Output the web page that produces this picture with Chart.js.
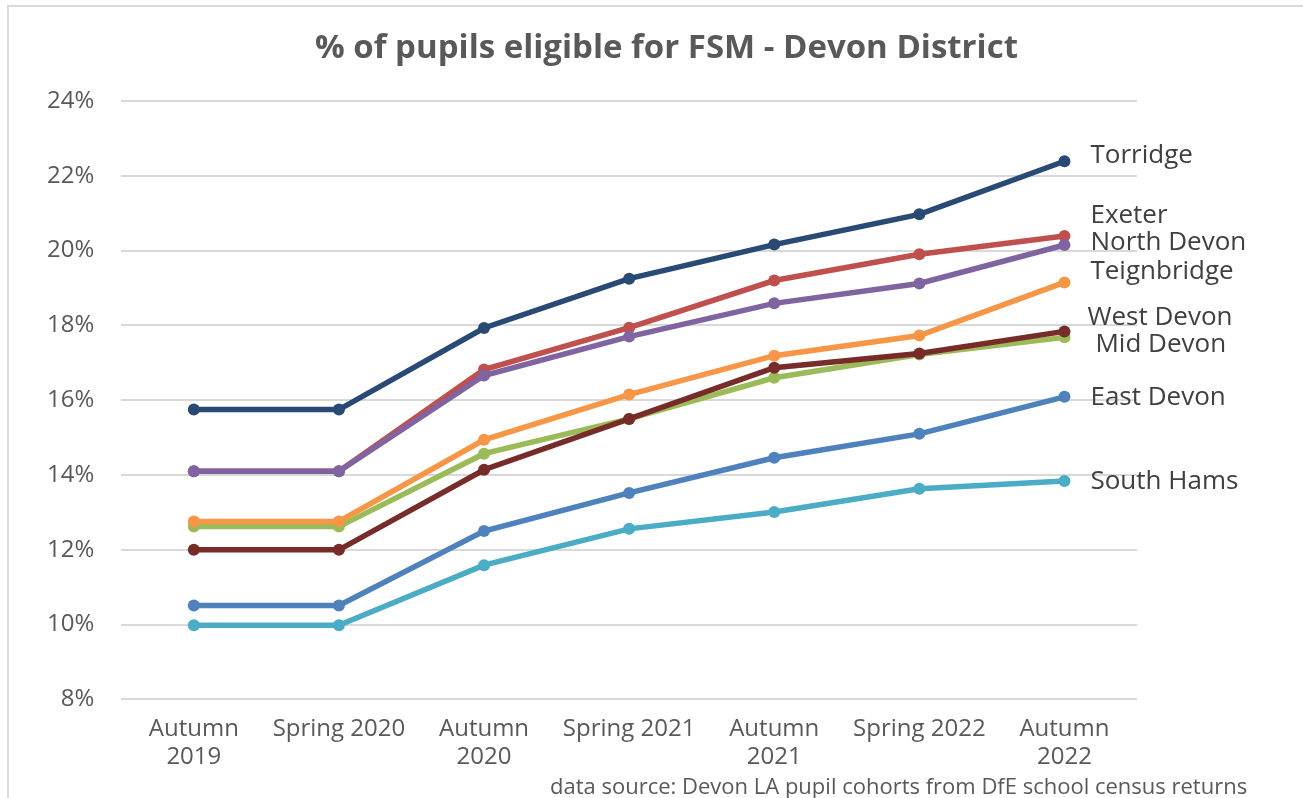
<!DOCTYPE html>
<html>
<head>
<meta charset="utf-8">
<script src="https://cdn.jsdelivr.net/npm/chart.js@4"></script>
<style>
  body { margin: 0; background: #fff; }
  #wrap { position: relative; width: 1303px; height: 798px; overflow: hidden; }
  #frame { position: absolute; left: 7px; top: 5px; right: -5px; bottom: -5px; border: 2px solid #d9d9d9; }
  #title { position: absolute; left: 0; width: 1333px; top: 24px; text-align: center; font-family: "Open Sans", sans-serif; font-weight: bold; font-size: 33px; line-height: 44px; color: #595959; }
  #src { position: absolute; left: 550px; top: 771px; font-family: "Open Sans", sans-serif; font-size: 22px; line-height: 28px; color: #595959; }
</style>
</head>
<body>
<div id="wrap">
  <div id="frame"></div>
  <canvas id="myLineChart" width="1303" height="798"></canvas>
  <div id="title">% of pupils eligible for FSM - Devon District</div>
  <div id="src">data source: Devon LA pupil cohorts from DfE school census returns</div>
</div>
<script>
// categories and series (% of pupils eligible for FSM)
var periods = [["Autumn", "2019"], "Spring 2020", ["Autumn", "2020"], "Spring 2021", ["Autumn", "2021"], "Spring 2022", ["Autumn", "2022"]];
var torridge = [15.75, 15.75, 17.93, 19.25, 20.16, 20.97, 22.39];
var exeter = [14.1, 14.1, 16.82, 17.94, 19.2, 19.9, 20.39];
var northDevon = [14.1, 14.1, 16.66, 17.7, 18.59, 19.12, 20.15];
var teignbridge = [12.76, 12.76, 14.94, 16.15, 17.19, 17.73, 19.15];
var westDevon = [12.0, 12.0, 14.14, 15.5, 16.87, 17.25, 17.84];
var midDevon = [12.62, 12.62, 14.57, 15.5, 16.6, 17.22, 17.68];
var eastDevon = [10.51, 10.51, 12.5, 13.52, 14.46, 15.1, 16.09];
var southHams = [9.98, 9.98, 11.59, 12.56, 13.01, 13.63, 13.84];
var yTicks = [8, 10, 12, 14, 16, 18, 20, 22, 24];

// series name, data, colour, label nudge (px) for the end label
var series = [
  ["Torridge", torridge, "#284a74", 0, -6],
  ["Exeter", exeter, "#c0504d", 0, -20],
  ["North Devon", northDevon, "#8064a2", 0, -2],
  ["Teignbridge", teignbridge, "#f79646", 0, -11],
  ["West Devon", westDevon, "#772c2a", -3, -14],
  ["Mid Devon", midDevon, "#9bbb59", 5, 7],
  ["East Devon", eastDevon, "#4f81bd", 0, 1],
  ["South Hams", southHams, "#4bacc6", 0, 1]
];
// draw order (lower = on top)
var drawOrder = [1, 8, 7, 5, 3, 6, 2, 4];

var endLabels = {
  id: "endLabels",
  afterDatasetsDraw: function (chart) {
    var ctx = chart.ctx;
    ctx.save();
    ctx.font = "26px 'Open Sans', sans-serif";
    ctx.fillStyle = "#404040";
    ctx.textBaseline = "middle";
    chart.data.datasets.forEach(function (ds, i) {
      var pts = chart.getDatasetMeta(i).data;
      var last = pts[pts.length - 1];
      ctx.fillText(ds.label, last.x + 26 + series[i][3], last.y + series[i][4]);
    });
    ctx.restore();
  }
};

var ctx = document.getElementById("myLineChart");
var myChart = new Chart(ctx, {
  type: "line",
  data: {
    labels: periods,
    datasets: series.map(function (s, i) {
      return {
        label: s[0],
        data: s[1],
        borderColor: s[2],
        backgroundColor: s[2],
        borderWidth: 5.5,
        pointRadius: 6,
        pointBorderWidth: 0,
        tension: 0,
        order: drawOrder[i]
      };
    })
  },
  options: {
    responsive: false,
    animation: false,
    layout: { padding: { left: 20, right: 166, top: 101, bottom: 19 } },
    plugins: {
      legend: { display: false },
      tooltip: { enabled: false },
      title: { display: false }
    },
    scales: {
      x: {
        offset: true,
        grid: { display: false },
        border: { display: false },
        ticks: {
          color: "#595959",
          font: { family: "'Open Sans', sans-serif", size: 24 },
          maxRotation: 0,
          autoSkip: false,
          padding: 7
        }
      },
      y: {
        min: 8,
        max: 24,
        afterBuildTicks: function (axis) {
          axis.ticks = yTicks.map(function (v) { return { value: v }; });
        },
        grid: { color: "#d9d9d9", lineWidth: 2, drawTicks: false },
        border: { display: false },
        ticks: {
          color: "#595959",
          font: { family: "'Open Sans', sans-serif", size: 24 },
          padding: 27,
          callback: function (v) { return v + "%"; }
        }
      }
    }
  },
  plugins: [endLabels]
});
</script>
</body>
</html>
